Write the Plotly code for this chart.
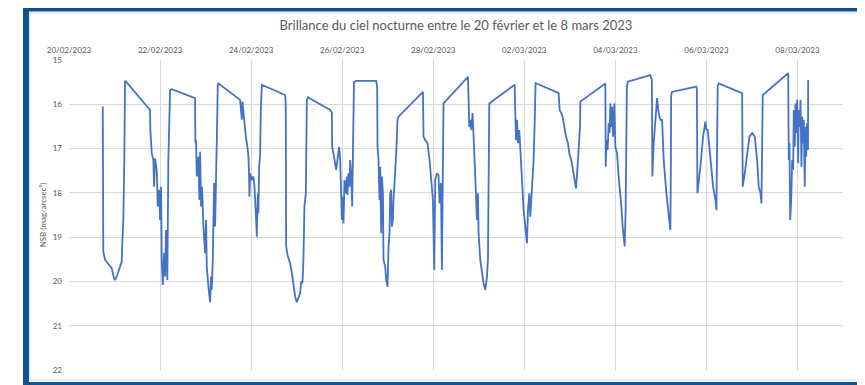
import pandas as pd
import plotly.graph_objects as go

title_text = "Brillance du ciel nocturne entre le 20 février et le 8 mars 2023"
y_title = "NSB (mag/arcsec²)"
start_date = "2023-02-20"

# time offset in days since 20/02/2023 00:00
days = [
    0.741, 0.754, 0.791, 0.886, 0.938, 0.989, 1.011, 1.062, 1.121, 1.158, 1.171, 1.193, 1.215, 1.224, 1.231, 1.253,
    1.765, 1.780, 1.787, 1.818, 1.853, 1.868, 1.890, 1.927, 1.949, 1.978, 2.000, 2.022, 2.037, 2.059, 2.088, 2.110,
    2.132, 2.160, 2.182, 2.204, 2.220, 2.257,
    2.732, 2.769, 2.776, 2.791, 2.807, 2.842, 2.864, 2.879, 2.901, 2.923, 2.952, 2.989, 3.011, 3.026, 3.062, 3.099,
    3.121, 3.136, 3.158, 3.171, 3.187, 3.209, 3.231, 3.246, 3.259, 3.266, 3.286,
    3.758, 3.780, 3.796, 3.809, 3.831, 3.853, 3.884, 3.919, 3.941, 3.956, 3.963, 3.978, 4.015, 4.051, 4.073, 4.103,
    4.125, 4.147, 4.160, 4.176, 4.198, 4.213, 4.220, 4.235,
    4.747, 4.758, 4.763, 4.769, 4.807, 4.857, 4.895, 4.930, 4.967, 5.004, 5.040, 5.077, 5.099, 5.127, 5.149, 5.165,
    5.171, 5.202, 5.215, 5.224, 5.246,
    5.736, 5.774, 5.780, 5.809, 5.846, 5.868, 5.905, 5.934, 5.956, 5.978, 5.993, 6.015, 6.029, 6.051, 6.081, 6.103,
    6.116, 6.138, 6.160, 6.176, 6.198, 6.220, 6.235, 6.248, 6.259, 6.308,
    6.747, 6.769, 6.776, 6.798, 6.820, 6.835, 6.857, 6.873, 6.895, 6.908, 6.945, 6.967, 6.996, 7.018, 7.040, 7.055,
    7.077, 7.092, 7.114, 7.127, 7.165, 7.187, 7.215, 7.237,
    7.774, 7.778, 7.787, 7.824, 7.875, 7.919, 7.949, 7.993, 8.022, 8.044, 8.081, 8.116, 8.138, 8.169, 8.191, 8.213,
    8.226,
    8.763, 8.776, 8.791, 8.813, 8.835, 8.864, 8.886, 8.908, 8.923, 8.945, 8.960, 8.982, 8.996, 9.033, 9.070, 9.105,
    9.143, 9.180, 9.202, 9.215, 9.224, 9.231,
    9.787, 9.802, 9.818, 9.840, 9.862, 9.890, 9.912, 9.949, 9.985, 10.022, 10.059, 10.081, 10.110, 10.132, 10.154,
    10.182, 10.204, 10.226, 10.235, 10.248,
    10.754, 10.776, 10.813, 10.842, 10.879, 10.916, 10.960, 10.989, 11.033, 11.084, 11.136, 11.165, 11.193, 11.224,
    11.231,
    11.780, 11.785, 11.789, 11.802, 11.831, 11.853, 11.875, 11.890, 11.905, 11.927, 11.949, 11.978, 12.000, 12.037,
    12.073, 12.110, 12.132, 12.160, 12.204, 12.226, 12.242, 12.253, 12.275,
    12.549, 12.769, 12.802, 12.807, 12.813, 12.842, 12.916, 12.952, 12.989, 13.026, 13.062, 13.121, 13.171, 13.209,
    13.220, 13.224, 13.242,
    13.780, 13.791, 13.796, 13.802, 13.868, 13.927, 13.978, 14.000, 14.029, 14.088, 14.147, 14.198, 14.220, 14.235,
    14.248, 14.270,
    14.785, 14.789, 14.798, 14.842, 14.895, 14.945, 15.004, 15.062, 15.114, 15.149, 15.187, 15.209, 15.220, 15.224,
    15.237,
    15.796, 15.807, 15.809, 15.824, 15.840, 15.862, 15.884, 15.905, 15.919, 15.941, 15.956, 15.971, 15.993, 16.015,
    16.029, 16.051, 16.066, 16.088, 16.103, 16.125, 16.138, 16.160, 16.176, 16.191, 16.213, 16.231, 16.235,
]

nsb = [
    16.05, 19.33, 19.51, 19.63, 19.70, 19.93, 19.97, 19.85, 19.67, 19.55, 19.14, 18.61, 17.26, 15.75, 15.47, 15.49,
    16.09, 16.13, 16.58, 17.11, 17.26, 17.86, 17.22, 17.48, 18.31, 17.93, 18.61, 17.86, 19.51, 20.08, 19.36, 19.89,
    18.84, 19.97, 17.26, 16.13, 15.68, 15.66,
    15.84, 15.86, 16.88, 16.81, 17.63, 17.18, 18.16, 17.07, 18.31, 17.86, 18.76, 19.36, 18.61, 19.67, 20.12, 20.47,
    19.89, 20.19, 19.51, 18.39, 17.78, 18.76, 17.86, 17.26, 16.13, 15.56, 15.53,
    15.90, 16.13, 16.35, 15.94, 16.20, 16.51, 16.73, 16.96, 17.18, 17.63, 18.09, 17.56, 17.71, 17.63, 17.86, 18.46,
    18.99, 18.01, 18.46, 17.41, 17.14, 16.13, 15.64, 15.56,
    15.79, 15.94, 16.51, 19.21, 19.44, 19.59, 19.81, 20.12, 20.34, 20.47, 20.38, 20.27, 20.00, 20.04, 19.51, 18.91,
    18.31, 18.01, 17.26, 15.90, 15.84,
    16.13, 16.19, 16.96, 17.11, 17.33, 17.48, 17.18, 16.96, 17.26, 17.86, 18.61, 18.09, 18.69, 17.71, 18.01, 17.63,
    18.05, 17.56, 17.86, 17.26, 17.63, 18.31, 17.26, 15.68, 15.50, 15.47,
    15.47, 15.63, 16.96, 17.26, 18.16, 17.41, 18.91, 17.63, 18.01, 19.51, 19.67, 19.97, 20.12, 19.21, 18.91, 18.01,
    17.93, 18.76, 18.61, 18.16, 17.63, 17.11, 16.35, 16.28,
    15.72, 16.35, 16.73, 16.81, 16.88, 17.26, 17.56, 18.16, 19.74, 17.71, 17.56, 17.60, 18.24, 17.78, 19.74, 16.13,
    15.98,
    15.38, 16.13, 16.51, 16.35, 16.58, 16.20, 16.96, 17.26, 17.63, 18.16, 18.61, 18.01, 18.91, 19.51, 19.81, 20.04,
    20.19, 19.89, 19.51, 18.01, 16.13, 15.98,
    15.56, 16.35, 16.81, 16.35, 16.88, 16.58, 16.96, 17.86, 18.39, 18.76, 19.14, 18.39, 18.01, 18.54, 18.16,
    17.63, 17.26, 16.51, 15.75, 15.52,
    15.75, 16.13, 16.20, 16.28, 16.51, 16.73, 16.88, 17.11, 17.26, 17.56, 17.90, 17.48, 17.03, 16.51,
    15.94,
    15.53, 16.51, 17.41, 16.81, 17.03, 16.43, 16.65, 15.98, 16.51, 16.05, 16.73, 15.98, 16.96, 17.11,
    17.63, 18.01, 18.31, 18.76, 19.21, 18.39, 16.88, 15.60, 15.49,
    15.41, 15.34, 15.45, 16.51, 17.63, 16.88, 15.86, 16.20, 16.35, 16.35, 17.26, 18.01, 18.46, 18.84,
    17.26, 15.83, 15.72,
    15.60, 15.68, 16.51, 18.01, 17.41, 16.73, 16.39, 16.58, 16.58, 17.18, 17.86, 18.16, 18.39, 16.88,
    15.60, 15.53,
    15.75, 16.51, 17.86, 17.56, 17.11, 16.73, 16.65, 16.73, 17.26, 17.86, 18.01, 18.24, 17.26, 15.90,
    15.79,
    15.30, 16.13, 17.26, 16.88, 18.61, 18.16, 17.26, 17.48, 16.13, 16.96, 15.98, 16.65, 15.90, 17.33,
    16.13, 16.51, 15.90, 17.41, 16.28, 16.88, 16.35, 17.86, 16.51, 17.18, 16.43, 17.03, 15.45,
]

times = pd.Timestamp(start_date) + pd.to_timedelta(days, unit="D")

grid_col = "#d9d9d9"
text_col = "#595959"
frame_col = "#0E5495"
font_fam = "Lato, 'Open Sans', sans-serif"

fig = go.Figure()
fig.add_trace(go.Scatter(
    x=times, y=nsb, mode="lines",
    line=dict(color="#4472C4", width=1.8),
    showlegend=False, hoverinfo="skip",
))

# the page body has an 8 px default margin: layout is expressed in page pixels
OFF = 8
W, H = 865 - OFF, 385 - OFF
ml, mt = 69 - OFF, 60 - OFF
pw, ph = 774, 310
mr, mb = W - ml - pw, H - mt - ph


def px(x):
    return (x - OFF - ml) / pw


def py(y):
    return (H - mb - (y - OFF)) / ph


shapes = [
    # inner light frame
    dict(type="rect", xref="paper", yref="paper", x0=px(30), x1=px(880), y0=py(380), y1=py(13),
         line=dict(color=grid_col, width=1), fillcolor="rgba(0,0,0,0)", layer="below"),
    # dark blue frame
    dict(type="rect", xref="paper", yref="paper", x0=px(23), x1=px(29), y0=py(400), y1=py(0),
         line=dict(width=0), fillcolor=frame_col),
    dict(type="rect", xref="paper", yref="paper", x0=px(23), x1=px(880), y0=py(11.5), y1=py(0),
         line=dict(width=0), fillcolor=frame_col),
    dict(type="rect", xref="paper", yref="paper", x0=px(23), x1=px(880), y0=py(400), y1=py(382),
         line=dict(width=0), fillcolor=frame_col),
]

fig.update_layout(
    width=W, height=H,
    margin=dict(l=ml, r=mr, t=mt, b=mb, autoexpand=False),
    paper_bgcolor="white", plot_bgcolor="white",
    font=dict(family=font_fam, color=text_col, size=8),
    title=dict(text=title_text, xref="paper", x=px(456), xanchor="center",
               yref="container", y=1 - (25 - OFF) / H, yanchor="middle",
               font=dict(size=13, color=text_col, family=font_fam)),
    shapes=shapes,
    xaxis=dict(
        type="date", side="top", automargin=False,
        range=[pd.Timestamp(start_date), pd.Timestamp("2023-03-09")],
        tick0=start_date, dtick=2 * 86400000, tickformat="%d/%m/%Y",
        showgrid=True, gridcolor=grid_col, gridwidth=1,
        zeroline=False, showline=False, ticks="",
        ticklabelstandoff=4,
        tickfont=dict(size=8, color=text_col),
    ),
    yaxis=dict(
        range=[22, 15], dtick=1, tick0=15, automargin=False,
        showgrid=True, gridcolor=grid_col, gridwidth=1,
        zeroline=False, showline=False, ticks="",
        ticklabelstandoff=6,
        tickfont=dict(size=8, color=text_col),
        title=dict(text=y_title, font=dict(size=8, color=text_col), standoff=4),
    ),
)

fig.write_html("out.html")
